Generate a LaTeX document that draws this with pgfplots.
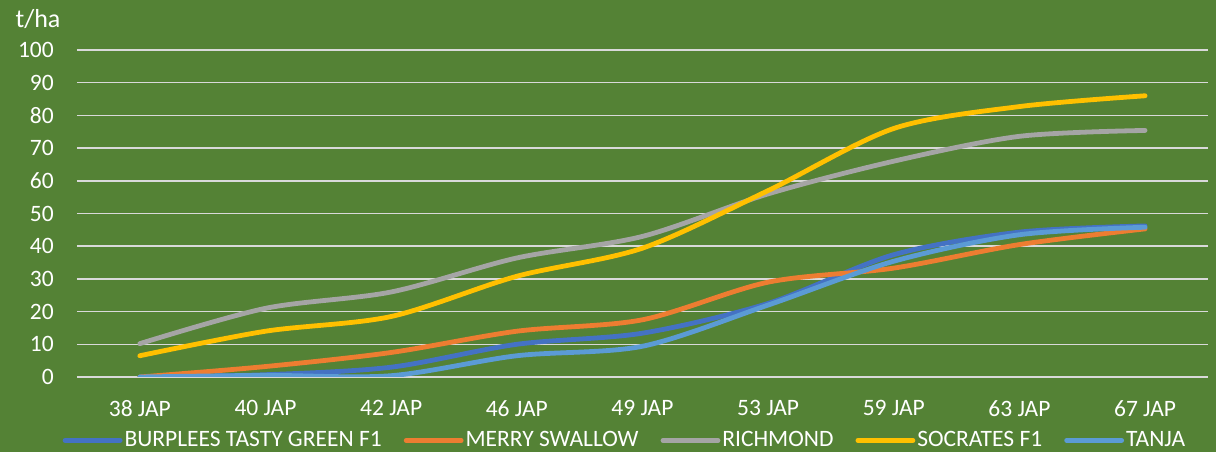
\documentclass[border=0pt]{standalone}
\usepackage{pgfplots}
\pgfplotsset{compat=1.18}
\usepackage{fontspec}
\setmainfont{Carlito}
\usetikzlibrary{backgrounds}

\definecolor{bg}{HTML}{548235}
\definecolor{gridc}{HTML}{D9D9D9}
\definecolor{cBurp}{HTML}{4472C4}
\definecolor{cMerry}{HTML}{ED7D31}
\definecolor{cRich}{HTML}{A5A5A5}
\definecolor{cSoc}{HTML}{FFC000}
\definecolor{cTanja}{HTML}{5B9BD5}

\begin{document}
\fontsize{23.5}{28}\selectfont
\begin{tikzpicture}
  \begin{axis}[
      scale only axis,
      width=1131pt, height=327pt,
      xmin=-0.5, xmax=8.5,
      ymin=0, ymax=100,
      xtick={0,...,8},
      xticklabels={38 JAP,40 JAP,42 JAP,46 JAP,49 JAP,53 JAP,59 JAP,63 JAP,67 JAP},
      ytick={0,10,...,100},
      axis line style={draw=none},
      major tick length=0pt,
      ymajorgrids=true,
      grid style={gridc, line width=1.5pt},
      tick label style={white, font=\fontsize{23.5}{28}\selectfont, inner sep=0pt},
      /pgf/number format/assume math mode=true,
      xticklabel style={anchor=north, yshift=-23pt},
      yticklabel style={anchor=east, xshift=-23pt},
      every axis plot/.append style={line width=4.8pt, line cap=round, smooth, tension=0.5},
      legend style={at={(0.4845,-0.194)}, anchor=center, draw=none, fill=none,
        text=white, font=\fontsize{23.5}{28}\selectfont, legend columns=5,
        /tikz/every even column/.append style={column sep=20pt},
        cells={inner sep=1pt}},
      legend image code/.code={\draw[#1] (0pt,0pt) -- (55pt,0pt);},
    ]
    % BURPLEES TASTY GREEN F1
    \addplot[cBurp] coordinates {
      (0,0) (1,0.7) (2,3) (3,10) (4,13.4) (5,22.5) (6,37.4) (7,44.3) (8,46.2)
    };
    % MERRY SWALLOW
    \addplot[cMerry] coordinates {
      (0,0) (1,3.2) (2,7.5) (3,14) (4,17.5) (5,29) (6,33.3) (7,40.5) (8,45.3)
    };
    % RICHMOND
    \addplot[cRich] coordinates {
      (0,10.2) (1,21) (2,26) (3,36.4) (4,43) (5,56) (6,66) (7,73.6) (8,75.4)
    };
    % SOCRATES F1
    \addplot[cSoc] coordinates {
      (0,6.5) (1,14) (2,18.5) (3,30.8) (4,39.4) (5,57) (6,76) (7,82.7) (8,86)
    };
    % TANJA
    \addplot[cTanja] coordinates {
      (0,0) (1,0.5) (2,0.4) (3,6.5) (4,9.4) (5,22) (6,35.4) (7,43.5) (8,45.8)
    };
    \legend{BURPLEES TASTY GREEN F1, MERRY SWALLOW, RICHMOND, SOCRATES F1, TANJA}
  \end{axis}
  \node[anchor=base, white, inner sep=0pt, font=\fontsize{26}{30}\selectfont] at (-39pt,349pt) {t/ha};
  \begin{scope}[on background layer]
    \fill[bg] (-77pt,-75pt) rectangle (1139pt,377pt);
  \end{scope}
  \pgfresetboundingbox
  \path[use as bounding box] (-77pt,-75pt) rectangle (1139pt,377pt);
\end{tikzpicture}
\end{document}
